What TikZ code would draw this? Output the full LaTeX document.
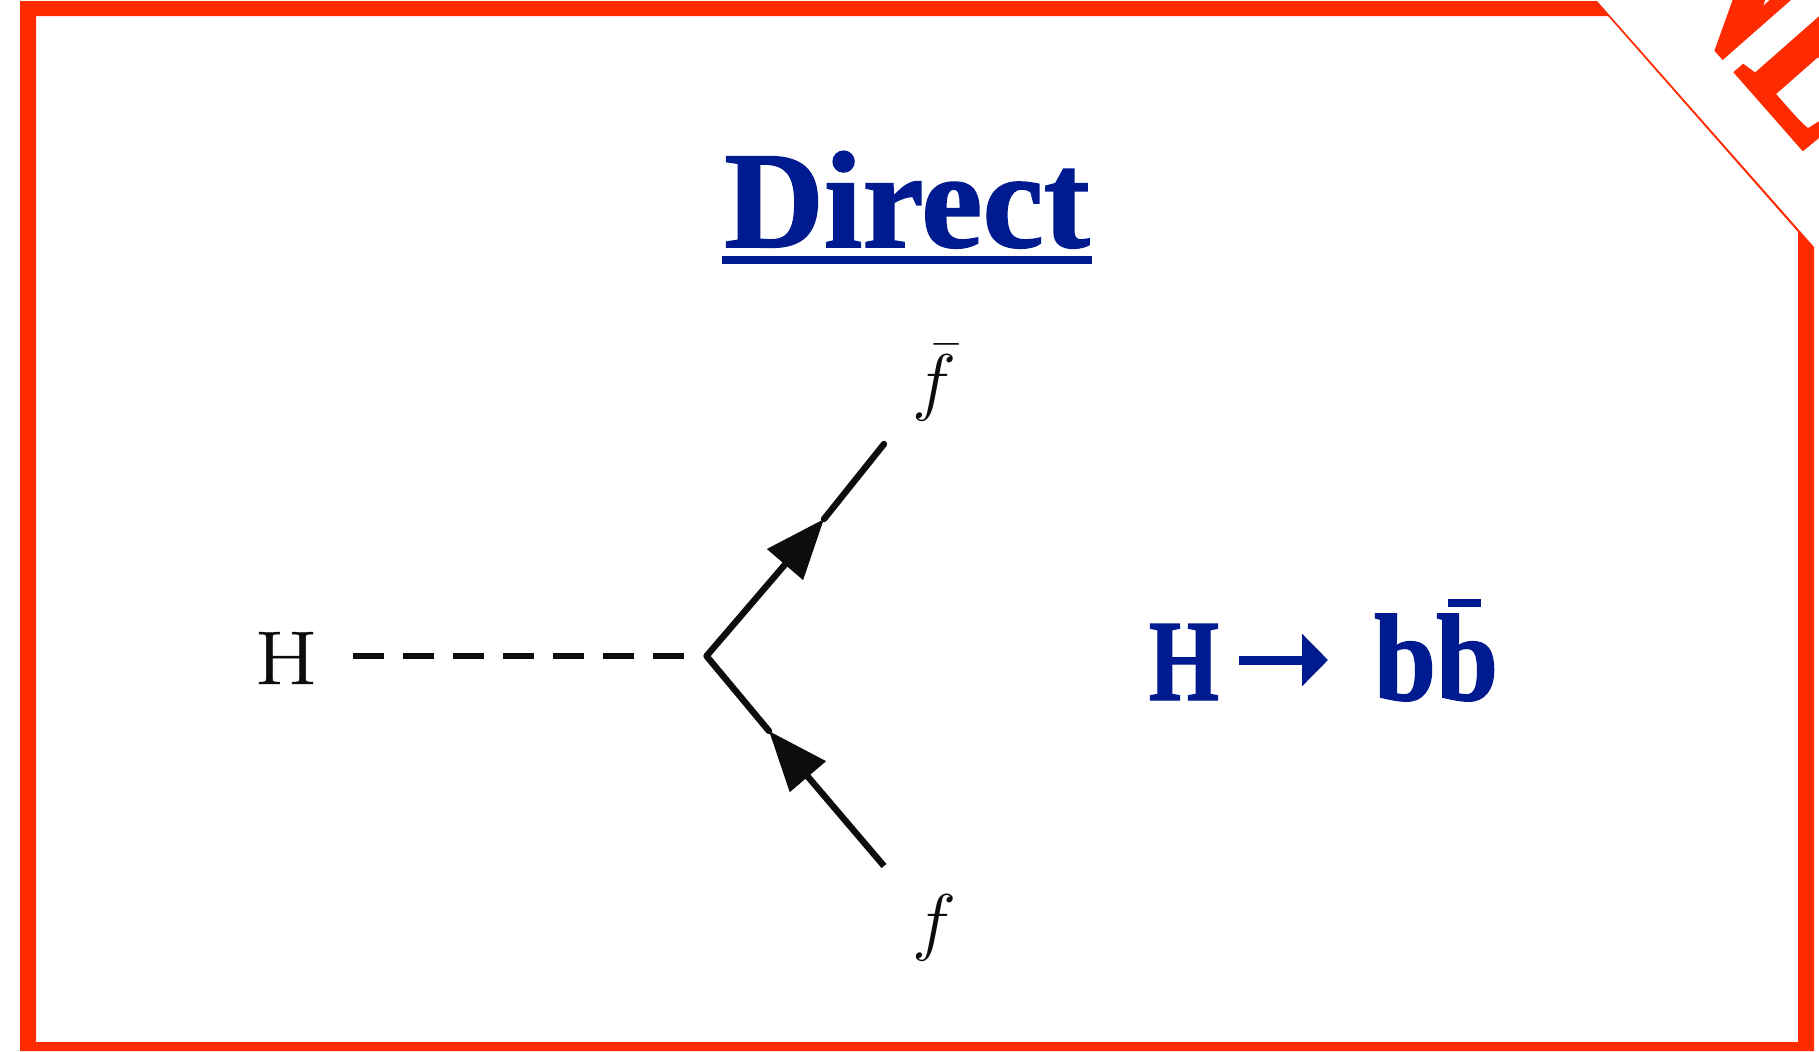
\documentclass[tikz,border=0pt]{standalone}
\usepackage{graphicx}
\usepackage{fontspec}
\setmainfont{Liberation Serif}
\newfontfamily\heavy[BoldFeatures={FakeBold=1.2}]{Liberation Serif}
\newfontfamily\heavier[BoldFeatures={FakeBold=2}]{Liberation Serif}
\newfontfamily\lmfont[FakeBold=0.6]{Latin Modern Roman}
\usetikzlibrary{arrows.meta}
\definecolor{framered}{HTML}{FF2B00}
\definecolor{navy}{HTML}{001A90}
\tikzset{
  txt/.style={inner sep=0pt,outer sep=0pt,anchor=base},
  bluetxt/.style={txt,text=navy},
  feyn/.style={line width=3.2pt,black!95,line cap=round},
  tipped/.style={feyn,line cap=butt,-{Triangle[length=30pt,width=23pt]}},
}
\begin{document}
\begin{tikzpicture}[x=0.5pt,y=-0.5pt]
\useasboundingbox (0,0) rectangle (1819,1051);
\fill[white] (0,0) rectangle (1819,1051);
% frame with cut corner
\fill[framered,even odd rule]
  (20,1) -- (1597,1) -- (1814,247) -- (1814,1051) -- (20,1051) -- cycle
  (36,16) -- (1608,16) -- (1798,232) -- (1798,1042) -- (36,1042) -- cycle;
% corner ribbon
\begin{scope}
\clip (1700,0) rectangle (1819,1051);
\node[txt,anchor=base west,rotate=-48.7,text=framered,font=\heavier\bfseries\fontsize{120}{125}\selectfont] (ribbon) at (1652,-24) {\scalebox{.72}[1]{NEW}};
\end{scope}
% title
\node[bluetxt,font=\heavy\bfseries\fontsize{69}{80}\selectfont] (title) at (907,247) {Direct};
\fill[navy] (722,256) rectangle (1092,264);
% Feynman diagram
\coordinate (v) at (706.5,656);
\coordinate (hstart) at (353,656);
\coordinate (hend) at (687,656);
\coordinate (tend) at (884,444);
\coordinate (bend) at (884,866);
\coordinate (ttip) at (824,519);
\coordinate (btip) at (769,731);
\node[txt,font=\lmfont\fontsize{38}{40}\selectfont,text=black!95] (hlabel) at (286,684) {\scalebox{1.2}[1]{H}};
\draw[feyn,line cap=butt,dash pattern=on 15.5pt off 9.5pt] (hstart) -- (hend);
\draw[tipped] (v) -- (ttip);
\draw[feyn] (ttip) -- (tend);
\draw[tipped] (bend) -- (btip);
\draw[feyn] (btip) -- (v);
\node[txt,text=black!95] (fbar) at (934,406) {\scalebox{1.5}{\fontsize{24.88}{26}\selectfont$\bar{f}$}};
\node[txt,text=black!95] (f) at (934,946) {\scalebox{1.5}{\fontsize{24.88}{26}\selectfont$f$}};
% decay formula
\node[bluetxt,font=\heavy\bfseries\fontsize{58}{60}\selectfont] (formh) at (1184,700) {\scalebox{.78}[1]{H}};
\node[bluetxt,font=\heavy\bfseries\fontsize{62}{64}\selectfont,anchor=base west] (formb) at (1374,700) {\scalebox{.9}[1]{bb}};
\coordinate (astart) at (1239,660);
\coordinate (aend) at (1328,660);
\draw[navy,line width=4.5pt,-{Triangle[length=13pt,width=25.5pt]}] (astart) -- (aend);
\fill[navy] (1448,599) rectangle (1481,607);
\end{tikzpicture}
\end{document}
